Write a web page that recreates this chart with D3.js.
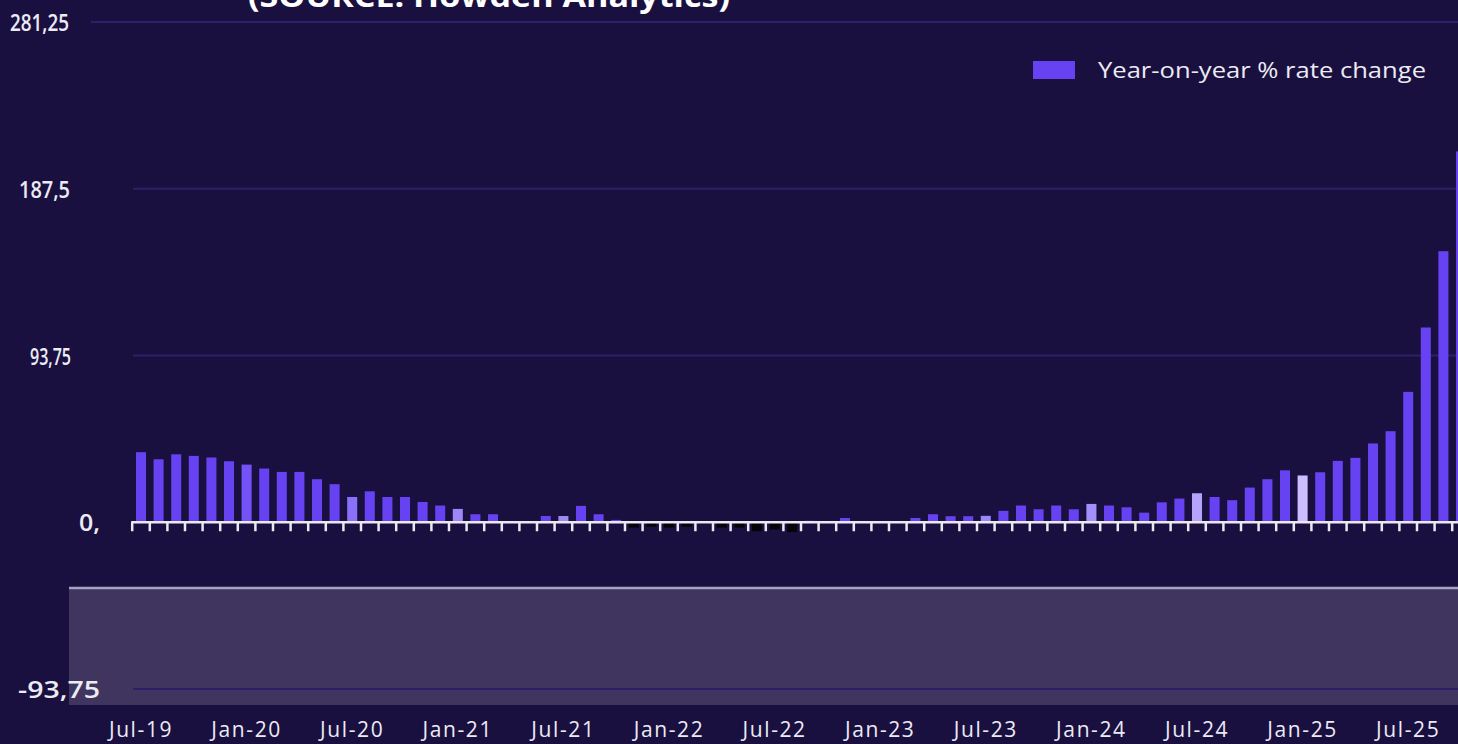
<!DOCTYPE html>
<html>
<head>
<meta charset="utf-8">
<script src="https://cdn.jsdelivr.net/npm/d3@7"></script>
<style>
  html, body { margin: 0; padding: 0; background: #1a1040; overflow: hidden; }
  svg { display: block; }
</style>
</head>
<body>
<svg id="chart" width="1458" height="744"></svg>
<script>
// ---------- DATA ----------
const months = [
  "Jul-19","Aug-19","Sep-19","Oct-19","Nov-19","Dec-19",
  "Jan-20","Feb-20","Mar-20","Apr-20","May-20","Jun-20",
  "Jul-20","Aug-20","Sep-20","Oct-20","Nov-20","Dec-20",
  "Jan-21","Feb-21","Mar-21","Apr-21","May-21","Jun-21",
  "Jul-21","Aug-21","Sep-21","Oct-21","Nov-21","Dec-21",
  "Jan-22","Feb-22","Mar-22","Apr-22","May-22","Jun-22",
  "Jul-22","Aug-22","Sep-22","Oct-22","Nov-22","Dec-22",
  "Jan-23","Feb-23","Mar-23","Apr-23","May-23","Jun-23",
  "Jul-23","Aug-23","Sep-23","Oct-23","Nov-23","Dec-23",
  "Jan-24","Feb-24","Mar-24","Apr-24","May-24","Jun-24",
  "Jul-24","Aug-24","Sep-24","Oct-24","Nov-24","Dec-24",
  "Jan-25","Feb-25","Mar-25","Apr-25","May-25","Jun-25",
  "Jul-25","Aug-25","Sep-25","Oct-25"
];
const yoyRateChange = [
  39.4, 35.4, 38.2, 37.3, 36.4, 34.3,
  32.4, 30.2, 28.3, 28.3, 24.2, 21.4,
  14.2, 17.4, 14.2, 14.2, 11.4, 9.4,
  7.5, 4.5, 4.5, 0.3, 0.3, 3.5,
  3.5, 9.2, 4.5, 1.3, -3.0, -2.5,
  -3.0, -2.5, -1.0, -3.0, -3.0, -5.0,
  -4.0, -5.5, 0.8, 0.5, 2.4, 0.3,
  0.3, 0.3, 2.4, 4.5, 3.4, 3.4,
  3.6, 6.4, 9.4, 7.3, 9.4, 7.3,
  10.3, 9.4, 8.4, 5.4, 11.2, 13.3,
  16.3, 14.2, 12.4, 19.5, 24.2, 29.2,
  26.3, 28.1, 34.5, 36.2, 44.3, 51.2,
  73.3, 109.5, 152.4, 208.5
];
const xTickLabels = ["Jul-19","Jan-20","Jul-20","Jan-21","Jul-21","Jan-22","Jul-22",
                     "Jan-23","Jul-23","Jan-24","Jul-24","Jan-25","Jul-25"];
const yTickValues = [281.25, 187.5, 93.75, 0, -93.75];
const yTickLabels = ["281,25", "187,5", "93,75", "0,", "-93,75"];
const seriesName = "Year-on-year % rate change";
const titleText = "(SOURCE: Howden Analytics)";

// ---------- STYLE ----------
const BG = "#1a1040";
const BAR = "#6742f2";
const NEG_BAR = "#050308";
const GRID = "#2d2069";
const TEXT = "#ecebf3";
const FONT = "'Open Sans', 'Noto Sans', sans-serif";
// lighter-rendered bars in the reference (by month)
const barShade = {
  "Jan-20": "#7452f7", "Jul-20": "#8a70f8", "Jan-21": "#9c86f9", "Jul-21": "#9d8bf4",
  "Jul-23": "#9c86f9", "Jan-24": "#a58ffa", "Jul-24": "#b6a4fc", "Jan-25": "#cbbdfe"
};
// y label rendering (right edge and rendered width, as in the reference)
const yLabelStyle = {
  "281,25": { right: 69, width: 59 },
  "187,5":  { right: 70, width: 51 },
  "93,75":  { right: 71, width: 41 },
  "0,":     { right: 100, width: 21 },
  "-93,75": { right: 100, width: 82 }
};

const svg = d3.select("#chart");
const W = 1458, H = 744;
svg.append("rect").attr("width", W).attr("height", H).attr("fill", BG);

// scales
const x = d3.scaleBand()
  .domain(months)
  .range([132.2, 132.2 + 17.6 * months.length])
  .paddingInner(0.43)
  .paddingOuter(0.215);
const y = d3.scaleLinear().domain([-93.75, 281.25]).range([689, 22]);

// grid lines
svg.append("g").selectAll("line")
  .data(yTickValues.filter(v => v > 0))
  .join("line")
  .attr("x1", d => d === 281.25 ? 91 : 133)
  .attr("x2", W)
  .attr("y1", d => y(d)).attr("y2", d => y(d))
  .attr("stroke", GRID).attr("stroke-width", 2);

// overlay panel (data zoom area)
const panelTop = y(-93.75) - 101;
svg.append("rect")
  .attr("x", 69).attr("y", panelTop)
  .attr("width", W - 69).attr("height", 117)
  .attr("fill", "#3f355f");
svg.append("line")
  .attr("x1", 69).attr("x2", W)
  .attr("y1", panelTop).attr("y2", panelTop)
  .attr("stroke", "#a9a1c3").attr("stroke-width", 2.5);
// -93.75 grid line on top of the panel
svg.append("line")
  .attr("x1", 133).attr("x2", W)
  .attr("y1", y(-93.75)).attr("y2", y(-93.75))
  .attr("stroke", "#2c1f67").attr("stroke-width", 2);

// bars
svg.append("g").selectAll("rect")
  .data(months.map((m, i) => ({ m, v: yoyRateChange[i] })))
  .join("rect")
  .attr("x", d => x(d.m))
  .attr("width", x.bandwidth())
  .attr("y", d => y(Math.max(0, d.v)))
  .attr("height", d => Math.abs(y(d.v) - y(0)))
  .attr("fill", d => d.v < 0 ? NEG_BAR : (barShade[d.m] || BAR));

// x axis baseline + ticks at band boundaries
const axisG = svg.append("g");
const boundaries = months.map(m => x(m) - (x.step() - x.bandwidth()) / 2);
axisG.selectAll("line.tick").data(boundaries).join("line")
  .attr("class", "tick")
  .attr("x1", d => d).attr("x2", d => d)
  .attr("y1", y(0)).attr("y2", y(0) + 9)
  .attr("stroke", "#ebe8f2").attr("stroke-width", 2.5);
axisG.append("line")
  .attr("x1", x.range()[0] - 1).attr("x2", x.range()[1])
  .attr("y1", y(0)).attr("y2", y(0))
  .attr("stroke", "#ebe8f2").attr("stroke-width", 2.5);

// x labels
const xAxis = d3.axisBottom(x).tickValues(xTickLabels).tickSize(0).tickPadding(0);
const xg = svg.append("g").attr("transform", `translate(0, ${y(-93.75) + 48})`).call(xAxis);
xg.select(".domain").remove();
xg.selectAll("text")
  .attr("fill", TEXT)
  .attr("dy", 0)
  .style("font-family", FONT)
  .style("font-size", "21px")
  .style("letter-spacing", "1.6px");

// y labels
const yAxis = d3.axisLeft(y).tickValues(yTickValues)
  .tickFormat((d, i) => yTickLabels[i]).tickSize(0).tickPadding(0);
const yg = svg.append("g").call(yAxis);
yg.select(".domain").remove();
yg.selectAll("text")
  .attr("fill", TEXT)
  .attr("dy", "0.36em")
  .attr("x", (d, i) => yLabelStyle[yTickLabels[i]].right)
  .attr("textLength", (d, i) => yLabelStyle[yTickLabels[i]].width)
  .attr("lengthAdjust", "spacingAndGlyphs")
  .style("font-family", FONT)
  .style("font-weight", "600")
  .style("font-size", "24px");

// legend
const lg = svg.append("g");
lg.append("rect").attr("x", 1033).attr("y", 61).attr("width", 42).attr("height", 18).attr("fill", BAR);
lg.append("text")
  .attr("x", 1098).attr("y", 78)
  .attr("fill", TEXT)
  .attr("textLength", 328).attr("lengthAdjust", "spacingAndGlyphs")
  .style("font-family", FONT)
  .style("font-size", "22px")
  .text(seriesName);

// title (clipped at the top edge, as in the reference)
svg.append("text")
  .attr("x", 248).attr("y", 7)
  .attr("fill", "#ffffff")
  .attr("textLength", 482).attr("lengthAdjust", "spacingAndGlyphs")
  .style("font-family", FONT)
  .style("font-weight", "700")
  .style("font-size", "30px")
  .text(titleText);
</script>
</body>
</html>
